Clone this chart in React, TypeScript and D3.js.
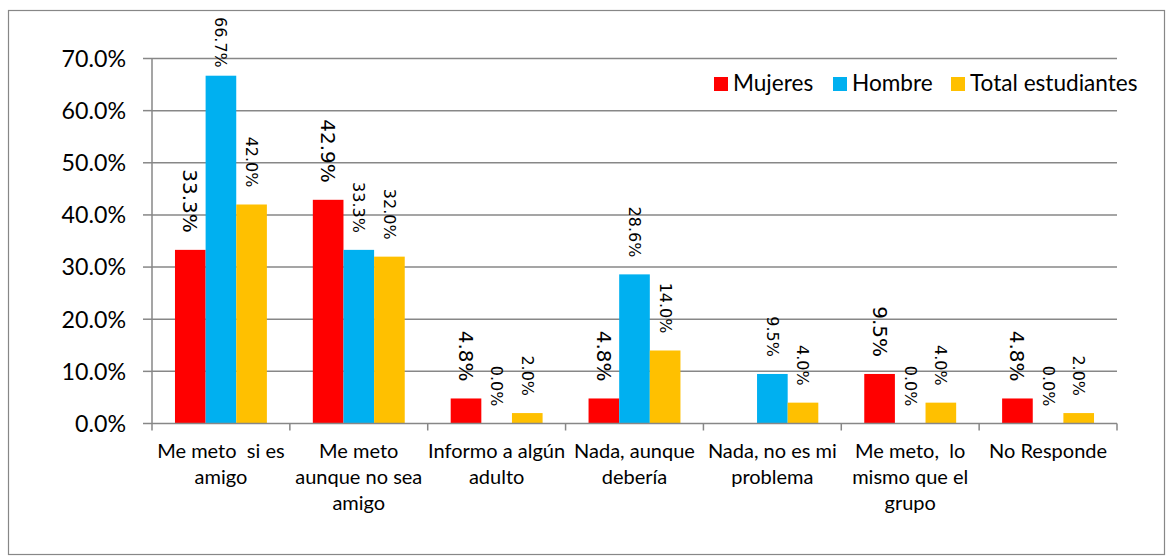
import React from "react";
import * as d3 from "d3";

const categories: string[][] = [
  ["Me meto  si es", "amigo"],
  ["Me meto", "aunque no sea", "amigo"],
  ["Informo a algún", "adulto"],
  ["Nada, aunque", "debería"],
  ["Nada, no es mi", "problema"],
  ["Me meto,  lo", "mismo que el", "grupo"],
  ["No Responde"],
];
const seriesNames = ["Mujeres", "Hombre", "Total estudiantes"];
const mujeres: (number | null)[] = [33.3, 42.9, 4.8, 4.8, null, 9.5, 4.8];
const hombre: (number | null)[] = [66.7, 33.3, 0.0, 28.6, 9.5, 0.0, 0.0];
const total: (number | null)[] = [42.0, 32.0, 2.0, 14.0, 4.0, 4.0, 2.0];
const yTicks = [0, 10, 20, 30, 40, 50, 60, 70];
const colors = ["#FF0000", "#00B0F0", "#FFC000"];
const labelSizes = [20, 16, 16];

const W = 1166;
const H = 558;
const plotL = 152;
const plotR = 1117;
const plotT = 58.5;
const plotB = 423.5;

const TXT = "#000";
const GRID = "#878787";

// approximate DejaVu Sans advance widths (em)
const charW = (c: string) => (c === "." ? 0.318 : c === "%" ? 0.95 : 0.636);
const textW = (s: string, size: number) =>
  s.split("").reduce((a, c) => a + charW(c), 0) * size;

export default function App() {
  const series = [mujeres, hombre, total];
  const catKeys = categories.map((_, i) => String(i));
  const x0 = d3.scaleBand<string>().domain(catKeys).range([plotL, plotR]).padding(0);
  const x1 = d3
    .scaleBand<string>()
    .domain(seriesNames)
    .range([0, x0.bandwidth()])
    .paddingInner(0)
    .paddingOuter(0.75);
  const y = d3.scaleLinear().domain([0, 70]).range([plotB, plotT]);

  const legendX = [714, 833, 951];

  return (
    <svg width={W} height={H} style={{ position: "absolute", left: 0, top: 0 }}>
      <rect x={0} y={0} width={W} height={H} fill="#fff" />
      <rect x={8.5} y={10.5} width={1156} height={544} fill="#fff" stroke={GRID} strokeWidth={1.2} />
      {/* gridlines */}
      {yTicks.map((t) => (
        <g key={t}>
          {t > 0 && (
            <line x1={plotL} x2={plotR} y1={y(t)} y2={y(t)} stroke={GRID} strokeWidth={1.5} />
          )}
          <line x1={143} x2={plotL} y1={y(t)} y2={y(t)} stroke={GRID} strokeWidth={1.5} />
          <text
            x={126}
            y={y(t)}
            dy="0.36em"
            textAnchor="end"
            fontFamily="Lato, sans-serif"
            fontSize={23.2}
            fill={TXT}
          >
            {t.toFixed(1) + "%"}
          </text>
        </g>
      ))}
      {/* bars */}
      {series.map((vals, si) =>
        vals.map((v, ci) =>
          v === null ? null : (
            <rect
              key={si + "-" + ci}
              x={(x0(String(ci)) as number) + (x1(seriesNames[si]) as number)}
              y={y(v)}
              width={x1.bandwidth()}
              height={plotB - y(v)}
              fill={colors[si]}
            />
          )
        )
      )}
      {/* axes */}
      <line x1={plotL} x2={plotL} y1={plotT} y2={plotB} stroke={GRID} strokeWidth={1.5} />
      <line x1={plotL} x2={plotR} y1={plotB} y2={plotB} stroke={GRID} strokeWidth={1.5} />
      {catKeys.concat(["end"]).map((k, i) => {
        const xx = plotL + i * x0.step();
        return <line key={k} x1={xx} x2={xx} y1={plotB} y2={plotB + 7} stroke={GRID} strokeWidth={1.5} />;
      })}
      {/* data labels */}
      {series.map((vals, si) =>
        vals.map((v, ci) => {
          if (v === null) return null;
          const label = v.toFixed(1) + "%";
          const size = labelSizes[si];
          const cx = (x0(String(ci)) as number) + (x1(seriesNames[si]) as number) + x1.bandwidth() / 2;
          let yEnd = y(v) - 17;
          const wTxt = textW(label, size);
          if (yEnd - wTxt < 17) yEnd = 17 + wTxt;
          return (
            <text
              key={"l" + si + "-" + ci}
              transform={`translate(${cx},${yEnd}) rotate(90)`}
              textAnchor="end"
              dominantBaseline="central"
              fontFamily="'DejaVu Sans', sans-serif"
              fontSize={size}
              fill={TXT}
            >
              {label}
            </text>
          );
        })
      )}
      {/* category labels */}
      {categories.map((lines, ci) => {
        const cx = (x0(String(ci)) as number) + x0.bandwidth() / 2;
        return (
          <text
            key={"c" + ci}
            textAnchor="middle"
            fontFamily="Lato, sans-serif"
            fontSize={20}
            fill={TXT}
            style={{ whiteSpace: "pre" }}
          >
            {lines.map((ln, li) => (
              <tspan key={li} x={cx} y={458 + li * 26}>
                {ln}
              </tspan>
            ))}
          </text>
        );
      })}
      {/* legend */}
      {seriesNames.map((s, i) => (
        <g key={s}>
          <rect x={legendX[i]} y={77} width={14} height={14} fill={colors[i]} />
          <text x={legendX[i] + 19} y={91} fontFamily="Lato, sans-serif" fontSize={22.6} fill={TXT}>
            {s}
          </text>
        </g>
      ))}
    </svg>
  );
}
